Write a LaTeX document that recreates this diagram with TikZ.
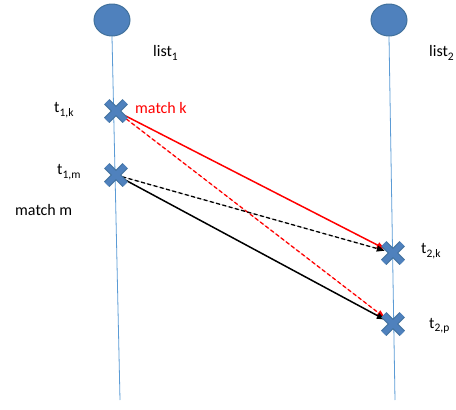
\documentclass[tikz,border=0pt]{standalone}
\usepackage{fontspec}
\setmainfont{Carlito}
\usetikzlibrary{arrows.meta,shapes.misc,shapes.geometric}
\pgfdeclarelayer{background}
\pgfsetlayers{background,main}
\definecolor{xfill}{HTML}{4F81BD}
\definecolor{xedge}{HTML}{41719C}
\definecolor{axis}{HTML}{5B9BD5}
\definecolor{myred}{HTML}{FF0000}
\newcommand{\lsub}[1]{\raisebox{-0.45ex}{\fontsize{11.5}{12}\selectfont #1}}
\tikzset{
  head/.style={ellipse, minimum width=36pt, minimum height=32pt, inner sep=0pt, fill=xfill, draw=xedge, line width=1pt},
  xmark/.style={cross out, minimum size=13pt, inner sep=0pt, draw=xfill, line width=5.5pt,
     preaction={draw=xedge, line width=7.5pt}},
  xanchor/.style={rectangle, minimum size=16pt, inner sep=0pt},
  lbl/.style={font=\fontsize{16}{19}\selectfont, inner sep=0pt, anchor=west},
  axisline/.style={draw=axis, line width=0.8pt},
  conn/.style={line width=1.5pt, -{Triangle[length=8pt,width=6pt]}},
  dconn/.style={line width=1.3pt, dash pattern=on 4pt off 2.5pt, -{Triangle[length=8pt,width=6pt]}},
}
\begin{document}
\begin{tikzpicture}[x=1pt,y=-1pt]
\useasboundingbox (0,0) rectangle (456,410);
% heads
\node[head] (h1) at (112,20) {};
\node[head] (h2) at (389,20) {};
\coordinate (b1) at (120,400);
\coordinate (b2) at (395,400);
% anchor nodes for crosses
\node[xanchor] (t1k) at (116,111) {};
\node[xanchor] (t1m) at (116,175) {};
\node[xanchor] (t2k) at (393,253) {};
\node[xanchor] (t2p) at (393,324) {};
\begin{pgfonlayer}{background}
\draw[axisline] (h1.south) -- (b1);
\draw[axisline] (h2.south) -- (b2);
\draw[conn, draw=myred, fill=myred] (t1k.center) -- (t2k);
\draw[dconn, draw=myred, fill=myred] (t1k.center) -- (t2p);
\draw[dconn, draw=black, fill=black] (t1m.center) -- (t2k);
\draw[conn, draw=black, fill=black] (t1m.center) -- (t2p);
\end{pgfonlayer}
% crosses
\node[xmark] (x1k) at (t1k) {};
\node[xmark] (x1m) at (t1m) {};
\node[xmark] (x2k) at (t2k) {};
\node[xmark] (x2p) at (t2p) {};
% labels
\node[lbl] (l1) at (153,53) {list\lsub{1}};
\node[lbl] (l2) at (429,53) {list\lsub{2}};
\node[lbl] (lt1k) at (54,110) {t\lsub{1,k}};
\node[lbl, text=myred] (mk) at (135,108) {match k};
\node[lbl] (lt1m) at (57,172) {t\lsub{1,m}};
\node[lbl] (mm) at (15,210) {match m};
\node[lbl] (lt2k) at (421,251) {t\lsub{2,k}};
\node[lbl] (lt2p) at (429,326) {t\lsub{2,p}};
\end{tikzpicture}
\end{document}
